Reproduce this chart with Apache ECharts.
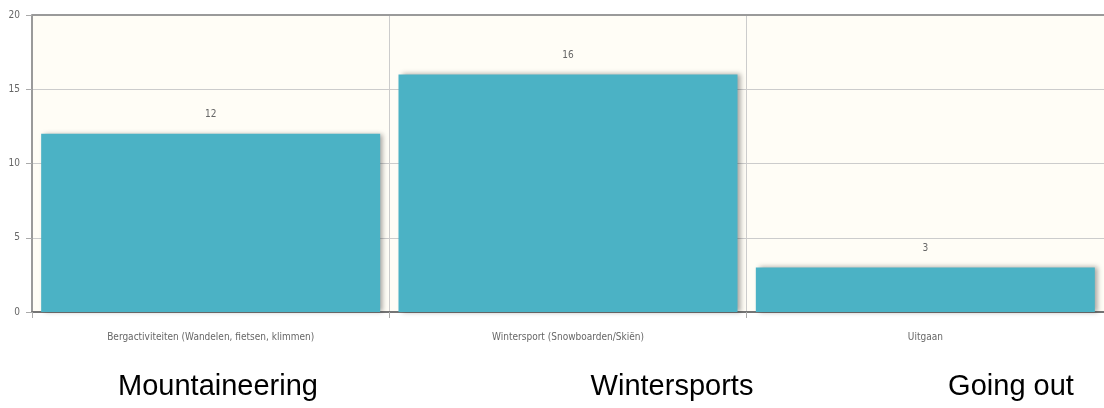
<!DOCTYPE html>
<html>
<head>
<meta charset="utf-8">
<script src="https://cdn.jsdelivr.net/npm/echarts@6/dist/echarts.min.js"></script>
<style>
  html, body { margin: 0; padding: 0; background: #ffffff; }
  #chart { width: 1104px; height: 408px; }
</style>
</head>
<body>
<div id="chart"></div>
<script>
// Activity categories and their counts
const categories = [
  'Bergactiviteiten (Wandelen, fietsen, klimmen)',
  'Wintersport (Snowboarden/Skiën)',
  'Uitgaan'
];
const counts = [12, 16, 3];
const yTicks = [0, 5, 10, 15, 20];
// English captions written underneath the chart
const translations = ['Mountaineering', 'Wintersports', 'Going out'];

const chart = echarts.init(document.getElementById('chart'), null, { renderer: 'canvas' });

const captionX = [218, 672, 1011];
const plotLeft = 32, plotTop = 15, plotWidth = 1080, plotHeight = 297;

chart.setOption({
  animation: false,
  backgroundColor: '#ffffff',
  grid: {
    left: plotLeft, top: plotTop, width: plotWidth, height: plotHeight,
    show: true, backgroundColor: '#fffdf6', borderWidth: 0
  },
  xAxis: {
    type: 'category',
    data: categories,
    boundaryGap: true,
    axisLine: { show: true, lineStyle: { color: '#757575', width: 2 } },
    axisTick: { show: true, alignWithLabel: false, length: 6, lineStyle: { color: '#aaaaaa' } },
    axisLabel: {
      color: '#666666', fontSize: 10, margin: 20,
      fontFamily: 'DejaVu Sans Condensed, DejaVu Sans, sans-serif'
    },
    splitLine: { show: true, lineStyle: { color: '#cccccc', width: 1 } }
  },
  yAxis: {
    type: 'value',
    min: yTicks[0], max: yTicks[yTicks.length - 1], interval: 5,
    axisLine: { show: true, lineStyle: { color: '#9a9a9a', width: 2 } },
    axisTick: { show: true, length: 6, lineStyle: { color: '#aaaaaa' } },
    axisLabel: {
      color: '#666666', fontSize: 10, margin: 12,
      fontFamily: 'DejaVu Sans Condensed, DejaVu Sans, sans-serif'
    },
    splitLine: { show: true, lineStyle: { color: '#cccccc', width: 1 } }
  },
  series: [{
    type: 'bar',
    data: counts,
    barWidth: 339,
    itemStyle: {
      color: '#4bb2c5',
      shadowColor: 'rgba(0,0,0,0.35)',
      shadowBlur: 5,
      shadowOffsetX: 3,
      shadowOffsetY: 0
    },
    label: {
      show: true, position: 'top', distance: 14,
      color: '#666666', fontSize: 10,
      fontFamily: 'DejaVu Sans Condensed, DejaVu Sans, sans-serif'
    }
  }],
  graphic: [
    // top border of the plot area
    {
      type: 'line', silent: true, z: 10,
      shape: { x1: plotLeft, y1: plotTop, x2: plotLeft + plotWidth, y2: plotTop },
      style: { stroke: '#9a9a9a', lineWidth: 2 }
    }
  ].concat(translations.map((t, i) => ({
    type: 'text', silent: true,
    x: captionX[i], y: 387,
    style: {
      text: t, fill: '#000000', fontSize: 29,
      fontFamily: 'Liberation Sans, Arial, sans-serif',
      align: 'center', verticalAlign: 'middle'
    }
  })))
});
</script>
</body>
</html>
